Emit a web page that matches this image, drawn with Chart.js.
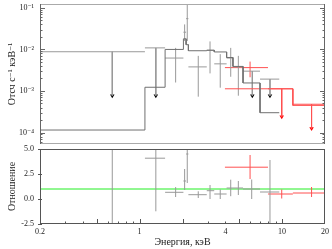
<!DOCTYPE html>
<html><head><meta charset="utf-8">
<script src="https://cdn.jsdelivr.net/npm/chart.js@4/dist/chart.umd.min.js"></script>
<style>
html,body{margin:0;padding:0;background:#fff;}
#wrap{position:relative;width:332px;height:249px;overflow:hidden;background:#fff;}
#top{position:absolute;left:0;top:0;width:332px;height:148px;}
#bot{position:absolute;left:0;top:138px;width:332px;height:111px;}
</style></head><body>
<div id="wrap">
<canvas id="top" width="332" height="148"></canvas>
<canvas id="bot" width="332" height="111"></canvas>
</div>
<script>
// ---------------- axes ----------------
const X_MIN = 0.2, X_MAX = 20;
const X_TICK_LABELS = [0.2, 1, 4, 10, 20];
const X_MAJOR_TICKS = [0.5, 1, 2, 5, 10];
const X_MINOR_TICKS = [0.3, 0.4, 0.6, 0.7, 0.8, 0.9, 3, 4, 6, 7, 8, 9];
const Y_TOP_MIN = 5.3e-5, Y_TOP_MAX = 0.124;
const RATIO_MIN = -2.5, RATIO_MAX = 5.0, RATIO_STEP = 2.5;

// ---------------- instrument 1 (grey) : detections ----------------
const gE   = [1.79, 2.07, 2.16, 2.58, 3.12, 3.68, 4.36, 4.93];
const gElo = [1.51, 2.03, 2.12, 2.20, 2.96, 3.34, 4.08, 4.52];
const gEhi = [2.03, 2.12, 2.20, 2.96, 3.34, 4.08, 4.52, 5.32];
const gF   = [6.2e-3, 2.6e-2, 5.5e-2, 3.8e-3, 9.5e-3, 4.5e-3, 6.2e-3, 3.8e-3];
const gFlo = [1.6e-3, 1.6e-2, 1.6e-2, 7.3e-4, 2.65e-3, 1.2e-3, 2.2e-3, 7.7e-4];
const gFhi = [1.09e-2, 4.0e-2, 0.3, 7.0e-3, 1.56e-2, 7.7e-3, 1.09e-2, 7.0e-3];
// instrument 1 : upper limits
const gUE   = [0.643, 1.30, 6.18, 8.22];
const gUElo = [0.2, 1.09, 5.32, 7.0];
const gUEhi = [1.09, 1.51, 7.0, 9.55];
const gUF   = [8.8e-3, 1.09e-2, 3.0e-3, 1.93e-3];
const gUTip = [7.7e-4, 7.7e-4, 7.7e-4, 7.7e-4];
// instrument 1 : model (step)
const gMEdges = [0.2, 1.09, 1.51, 2.03, 2.12, 2.20, 2.96, 3.34, 4.08, 4.52, 5.32, 7.0, 9.55];
const gMVals  = [1.15e-4, 1.23e-3, 1.0e-2, 1.8e-2, 1.3e-2, 9.3e-3, 9.6e-3, 8.7e-3, 6.4e-3, 3.9e-3, 1.56e-3, 3.0e-4];

// ---------------- instrument 2 (red) ----------------
const rE   = [5.96], rElo = [3.97], rEhi = [7.96];
const rF   = [3.65e-3], rFlo = [2.14e-3], rFhi = [5.1e-3];
const rUE   = [9.94, 16.1];
const rUElo = [7.96, 11.9];
const rUEhi = [11.9, 20];
const rUF   = [1.13e-3, 4.8e-4];
const rUTip = [2.4e-4, 1.25e-4];
const rMEdges = [3.97, 7.96, 11.9, 20];
const rMVals  = [1.13e-3, 1.13e-3, 4.5e-4];

// ---------------- ratio panel ----------------
const gRE   = [0.643, 1.30, 1.79, 2.07, 2.16, 2.58, 3.12, 3.68, 4.36, 4.93, 6.12, 8.22];
const gRElo = [0.2, 1.09, 1.51, 2.03, 2.12, 2.20, 2.96, 3.34, 4.08, 4.52, 5.32, 7.0];
const gREhi = [1.09, 1.51, 2.03, 2.12, 2.20, 2.96, 3.34, 4.08, 4.52, 5.32, 7.0, 9.55];
const gR    = [40, 4.08, 0.67, 1.8, 4.5, 0.43, 0.83, 0.5, 1.1, 1.1, 1.0, 0.7];
const gRlo  = [-10, -1.23, 0.2, 0.9, 1.6, 0.1, 0.0, 0.0, 0.28, 0.4, 0.0, -2.6];
const gRhi  = [90, 4.9, 1.19, 3.0, 8.0, 0.77, 1.4, 0.95, 1.93, 1.8, 1.95, 3.9];
const rRE   = [5.96, 9.94, 16.1];
const rRElo = [3.97, 7.96, 11.9];
const rREhi = [7.96, 11.9, 20];
const rR    = [3.18, 0.5, 0.6];
const rRlo  = [2.0, 0.05, 0.2];
const rRhi  = [4.4, 0.95, 1.2];
const UNITY = [1, 1];

// ---------------- helpers ----------------
const FONT = "'Liberation Serif','DejaVu Serif',serif";
const GREY = '#999999', MODEL = '#707070', RED = '#ff5050', GREEN = '#22ee22';
const SUP = {'-':'⁻','0':'⁰','1':'¹','2':'²','3':'³','4':'⁴','5':'⁵','6':'⁶','7':'⁷','8':'⁸','9':'⁹'};
const sup = n => String(n).split('').map(c => SUP[c]).join('');

function crossPts(E, Elo, Ehi, F, Flo, Fhi) {
  const p = [];
  for (let i = 0; i < E.length; i++) {
    p.push({x: Elo[i], y: F[i]}, {x: Ehi[i], y: F[i]}, {x: E[i], y: null});
    p.push({x: E[i], y: Flo[i]}, {x: E[i], y: Fhi[i]}, {x: E[i], y: null});
  }
  return p;
}
function ulPts(E, Elo, Ehi, F, tip) {
  const p = [];
  for (let i = 0; i < E.length; i++) {
    p.push({x: Elo[i], y: F[i]}, {x: Ehi[i], y: F[i]}, {x: E[i], y: null});
    p.push({x: E[i], y: F[i]}, {x: E[i], y: tip[i]}, {x: E[i], y: null});
  }
  return p;
}
function tipPts(E, tip) { return E.map((e, i) => ({x: e, y: tip[i]})); }
function stepPts(edges, vals) {
  const p = [];
  for (let i = 0; i < vals.length; i++) {
    p.push({x: edges[i], y: vals[i]}, {x: edges[i + 1], y: vals[i]});
  }
  return p;
}
const lineDs = (data, color, w) => ({data, borderColor: color, borderWidth: w || 1, pointRadius: 0,
  showLine: true, spanGaps: false, fill: false, tension: 0});
const arrowDs = (data, color) => ({data, showLine: false, pointStyle: 'triangle', rotation: 180,
  pointRadius: 2.6, backgroundColor: color, borderColor: color, borderWidth: 0});

function tick(ctx, x1, y1, x2, y2) { ctx.beginPath(); ctx.moveTo(x1, y1); ctx.lineTo(x2, y2); ctx.stroke(); }
function noOverflow(s) { s.paddingTop = 0; s.paddingBottom = 0; s.paddingLeft = 0; s.paddingRight = 0; }

const frameTop = {
  id: 'frameTop',
  afterDraw(chart) {
    const {ctx, chartArea: a} = chart; const ys = chart.scales.y;
    ctx.save(); ctx.lineWidth = 1;
    ctx.strokeStyle = '#aaaaaa';
    tick(ctx, a.left, a.top + 0.5, a.right, a.top + 0.5);
    tick(ctx, a.left, a.bottom - 0.5, a.right, a.bottom - 0.5);
    ctx.strokeStyle = '#666666';
    tick(ctx, a.left + 0.5, a.top, a.left + 0.5, a.bottom);
    tick(ctx, a.right - 0.5, a.top, a.right - 0.5, a.bottom);
    for (let e = -5; e <= -1; e++) for (let k = 1; k <= 9; k++) {
      const v = k * Math.pow(10, e);
      if (v < Y_TOP_MIN || v > Y_TOP_MAX) continue;
      const y = Math.round(ys.getPixelForValue(v)) + 0.5, L = k === 1 ? 5 : 2.5;
      tick(ctx, a.left, y, a.left + L, y);
      tick(ctx, a.right - L, y, a.right, y);
    }
    ctx.restore();
  }
};
const frameBot = {
  id: 'frameBot',
  afterDraw(chart) {
    const {ctx, chartArea: a} = chart; const xs = chart.scales.x, ys = chart.scales.y;
    ctx.save(); ctx.lineWidth = 1; ctx.strokeStyle = '#555555';
    ctx.strokeRect(a.left + 0.5, a.top + 0.5, a.right - a.left - 1, a.bottom - a.top - 1);
    X_MAJOR_TICKS.concat(X_MINOR_TICKS).forEach(v => {
      const x = Math.round(xs.getPixelForValue(v)) + 0.5, L = X_MAJOR_TICKS.includes(v) ? 5 : 2.5;
      tick(ctx, x, a.bottom, x, a.bottom - L);
    });
    for (let v = RATIO_MIN; v <= RATIO_MAX; v += RATIO_STEP) {
      const y = Math.round(ys.getPixelForValue(v)) + 0.5;
      tick(ctx, a.left - 2, y, a.left + 2, y);
    }
    ctx.restore();
  }
};

Chart.defaults.animation = false;
Chart.defaults.font.family = FONT;
Chart.defaults.color = '#222';

const common = {
  responsive: false, maintainAspectRatio: false, animation: false,
  plugins: {legend: {display: false}, tooltip: {enabled: false}},
  elements: {line: {borderCapStyle: 'butt'}}
};

new Chart(document.getElementById('top'), {
  type: 'line',
  data: {datasets: [
    lineDs(stepPts(gMEdges, gMVals), MODEL),
    lineDs(stepPts(rMEdges, rMVals), RED),
    lineDs(crossPts(gE, gElo, gEhi, gF, gFlo, gFhi), GREY),
    lineDs(ulPts(gUE, gUElo, gUEhi, gUF, gUTip), GREY),
    lineDs(crossPts(rE, rElo, rEhi, rF, rFlo, rFhi), RED),
    lineDs(ulPts(rUE, rUElo, rUEhi, rUF, rUTip), RED),
    arrowDs(tipPts(gUE, gUTip), '#000'),
    arrowDs(tipPts(rUE, rUTip), '#ff0000')
  ]},
  options: Object.assign({}, common, {
    layout: {padding: {left: 0, right: 7, top: 1, bottom: 1}},
    scales: {
      x: {type: 'logarithmic', min: X_MIN, max: X_MAX, display: false, afterFit: noOverflow},
      y: {type: 'logarithmic', min: Y_TOP_MIN, max: Y_TOP_MAX,
        afterFit(s) { s.width = 40; noOverflow(s); },
        grid: {display: false, drawTicks: false}, border: {display: false},
        ticks: {autoSkip: false, padding: 6, font: {family: FONT, size: 8}, color: '#222',
          callback(v) { const l = Math.log10(v), r = Math.round(l);
            return (Math.abs(l - r) < 1e-6 && r <= -1 && r >= -4) ? '10' + sup(r) : ''; }},
        title: {display: true, text: 'Отсч с⁻¹ кэВ⁻¹', color: '#222',
          font: {family: FONT, size: 10}, padding: {top: 6, bottom: 0}}
      }
    }
  }),
  plugins: [frameTop]
});

new Chart(document.getElementById('bot'), {
  type: 'line',
  data: {datasets: [
    lineDs(crossPts(gRE, gRElo, gREhi, gR, gRlo, gRhi), GREY),
    lineDs(crossPts(rRE, rRElo, rREhi, rR, rRlo, rRhi), RED),
    lineDs([{x: X_MIN, y: UNITY[0]}, {x: X_MAX, y: UNITY[1]}], GREEN)
  ]},
  options: Object.assign({}, common, {
    layout: {padding: {left: 0, right: 7, top: 11, bottom: 0}},
    scales: {
      x: {type: 'logarithmic', min: X_MIN, max: X_MAX,
        afterFit(s) { s.height = 25; noOverflow(s); },
        afterBuildTicks(s) { s.ticks = X_TICK_LABELS.map(v => ({value: v})); },
        grid: {display: false, drawTicks: false}, border: {display: false},
        ticks: {autoSkip: false, maxRotation: 0, minRotation: 0, padding: 3, color: '#222',
          font: {family: FONT, size: 8}, callback(v) { return String(v); }},
        title: {display: true, text: 'Энергия, кэВ', color: '#222',
          font: {family: FONT, size: 10}, padding: {top: 0, bottom: 1}}
      },
      y: {min: RATIO_MIN, max: RATIO_MAX,
        afterFit(s) { s.width = 40; noOverflow(s); },
        grid: {display: false, drawTicks: false}, border: {display: false},
        ticks: {stepSize: RATIO_STEP, padding: 6, color: '#222', font: {family: FONT, size: 8},
          callback(v) { return v.toFixed(1); }},
        title: {display: true, text: 'Отношение', color: '#222',
          font: {family: FONT, size: 10}, padding: {top: 6, bottom: 0}}
      }
    }
  }),
  plugins: [frameBot]
});
</script>
</body></html>
